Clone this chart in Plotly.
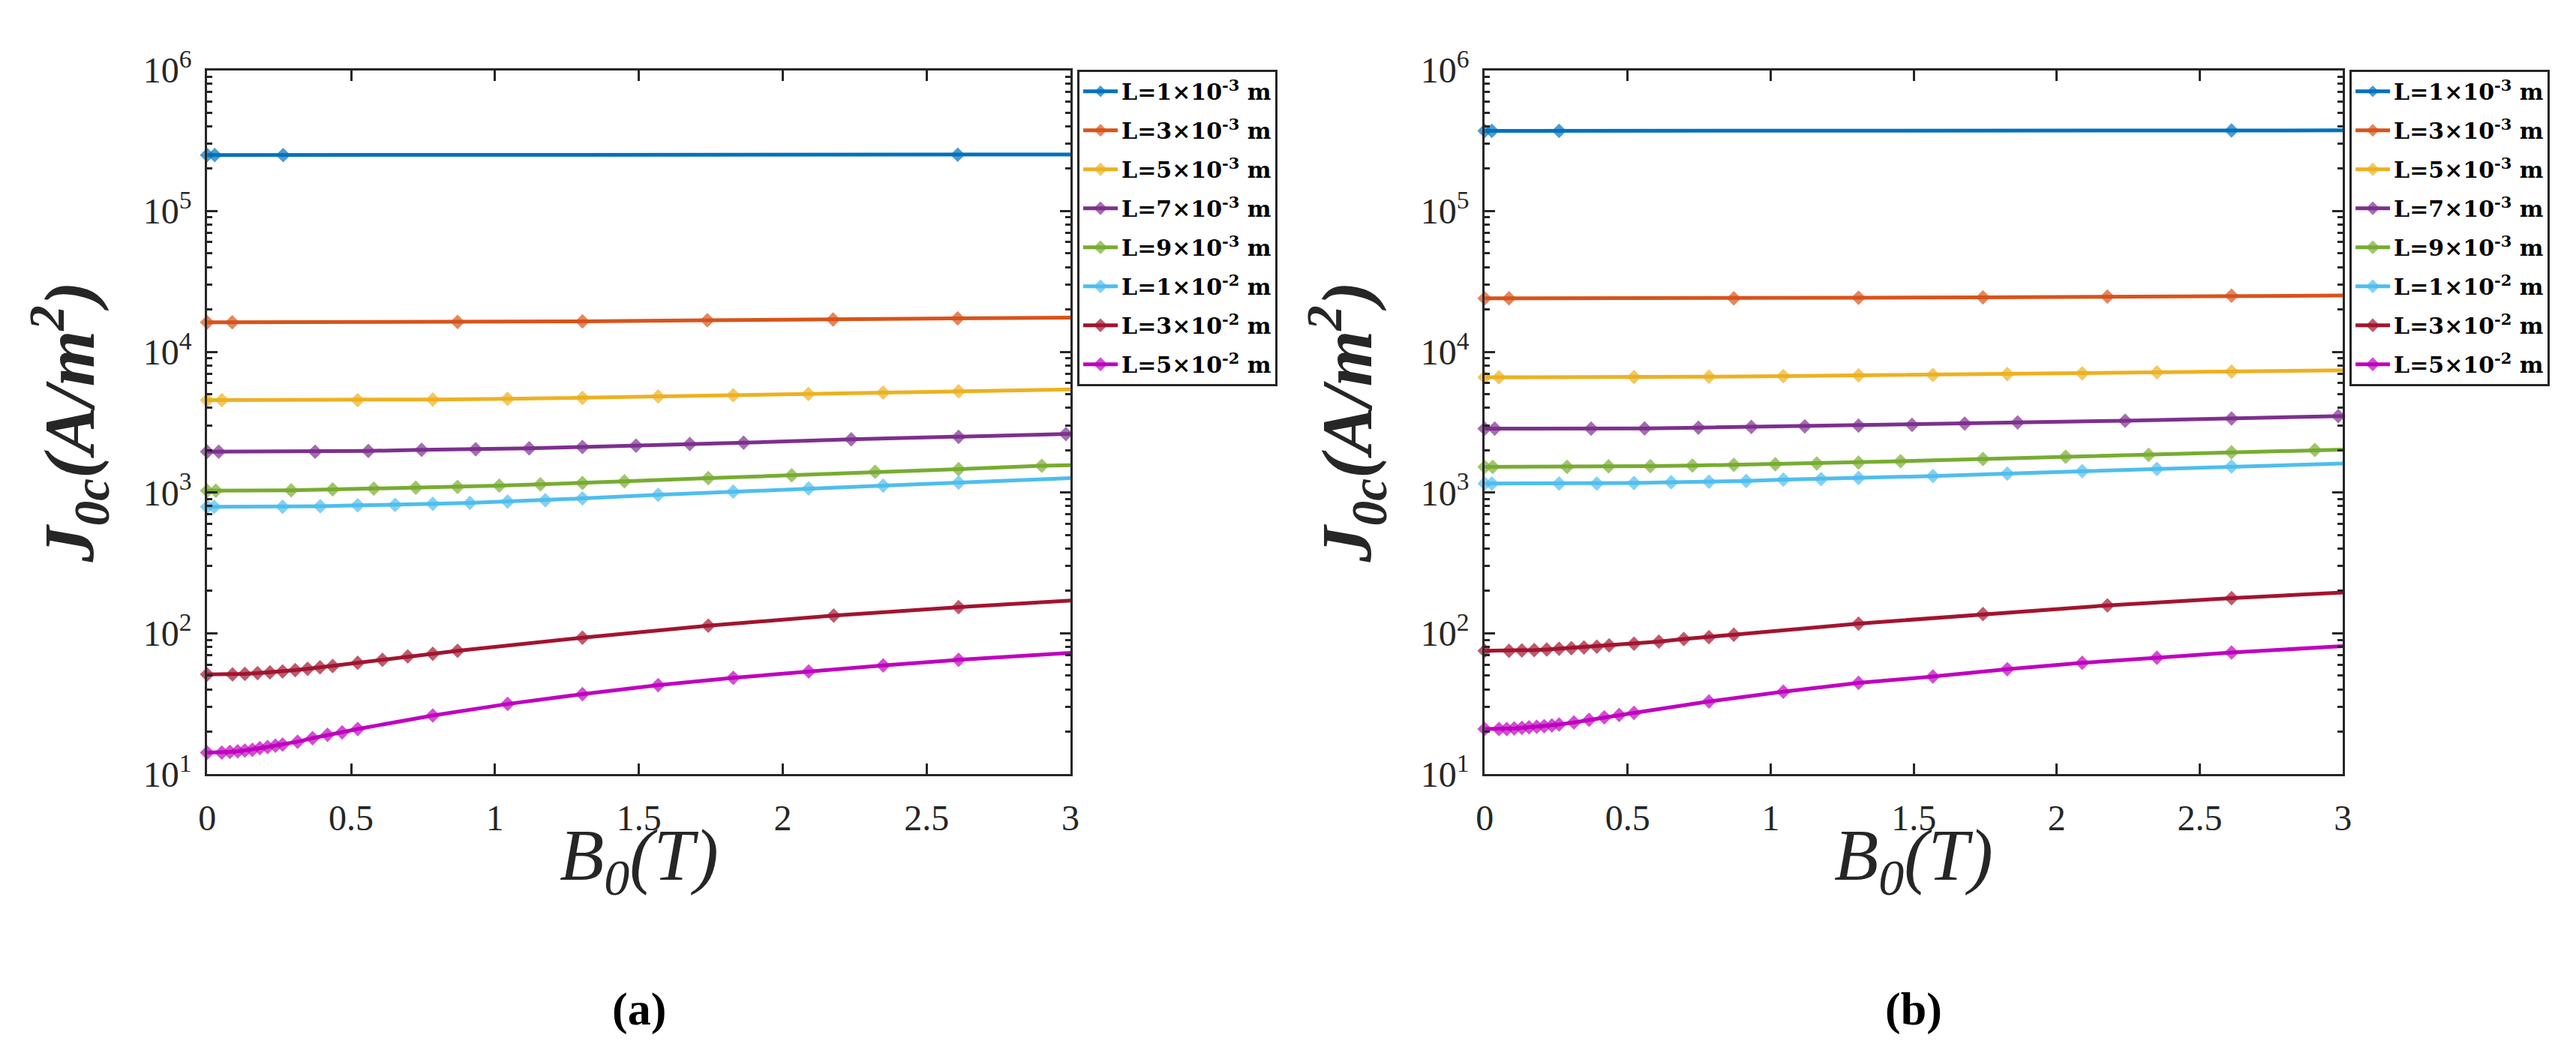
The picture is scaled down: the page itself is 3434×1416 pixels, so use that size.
import plotly.graph_objects as go

W, H = 3434, 1416

# ---------------- data: panel (a) ----------------
xa_blue = [0, 0.026, 0.264, 2.608, 3.0]
ya_blue = [250000, 250000, 250000, 251000, 252000]
xa_orange = [0, 0.087, 0.870, 1.304, 1.738, 2.175, 2.608, 3.0]
ya_orange = [16200, 16200, 16300, 16450, 16750, 16950, 17300, 17500]
xa_yellow = [0, 0.051, 0.523, 0.784, 1.044, 1.304, 1.567, 1.828, 2.089, 2.349, 2.611, 3.0]
ya_yellow = [4540, 4540, 4540, 4580, 4630, 4710, 4830, 4920, 5020, 5130, 5240, 5400]
xa_purple = [0, 0.040, 0.375, 0.560, 0.745, 0.933, 1.119, 1.304, 1.490, 1.677, 1.864, 2.238, 2.611, 2.984, 3.0]
ya_purple = [1950, 1950, 1950, 1975, 2015, 2030, 2060, 2110, 2150, 2210, 2260, 2390, 2490, 2600, 2610]
xa_green = [0, 0.030, 0.292, 0.436, 0.579, 0.725, 0.870, 1.015, 1.158, 1.304, 1.450, 1.741, 2.031, 2.321, 2.611, 2.900, 3.0]
ya_green = [1030, 1030, 1038, 1052, 1065, 1083, 1097, 1120, 1144, 1168, 1203, 1265, 1325, 1405, 1466, 1549, 1567]
xa_lblue = [0, 0.024, 0.262, 0.393, 0.523, 0.653, 0.784, 0.913, 1.044, 1.175, 1.304, 1.567, 1.828, 2.090, 2.349, 2.611, 3.0]
ya_lblue = [791, 791, 791, 800, 811, 817, 831, 845, 864, 882, 908, 963, 1017, 1070, 1120, 1178, 1265]
xa_dred = [0, 0.088, 0.131, 0.175, 0.218, 0.262, 0.306, 0.349, 0.392, 0.436, 0.523, 0.609, 0.697, 0.784, 0.870, 1.304, 1.741, 2.177, 2.611, 3.0]
ya_dred = [51.1, 51.1, 51.5, 52.1, 52.8, 53.7, 54.8, 56.0, 57.4, 58.7, 61.7, 64.9, 68.5, 71.5, 75.2, 93.1, 113.4, 133.6, 153.5, 170.7]
xa_mag = [0, 0.051, 0.079, 0.106, 0.131, 0.157, 0.183, 0.210, 0.237, 0.262, 0.314, 0.366, 0.418, 0.469, 0.523, 0.784, 1.044, 1.304, 1.567, 1.828, 2.090, 2.349, 2.611, 3.0]
ya_mag = [14.2, 14.2, 14.4, 14.5, 14.7, 14.9, 15.3, 15.6, 15.9, 16.2, 17.0, 18.0, 19.0, 19.8, 20.9, 26.1, 31.5, 37.0, 42.9, 48.3, 53.7, 59.1, 64.9, 72.6]

# ---------------- data: panel (b) ----------------
xb_blue = [0, 0.025, 0.260, 2.611, 3.0]
yb_blue = [371000, 371000, 371000, 373000, 374000]
xb_orange = [0, 0.085, 0.871, 1.307, 1.742, 2.177, 2.611, 3.0]
yb_orange = [23970, 23970, 23970, 24200, 24380, 24660, 25000, 25100]
xb_yellow = [0, 0.050, 0.522, 0.784, 1.044, 1.307, 1.567, 1.827, 2.089, 2.350, 2.611, 3.0]
yb_yellow = [6590, 6590, 6620, 6650, 6710, 6800, 6850, 6940, 7030, 7140, 7230, 7390]
xb_purple = [0, 0.035, 0.372, 0.559, 0.747, 0.932, 1.119, 1.307, 1.494, 1.678, 1.863, 2.239, 2.611, 2.984, 3.0]
yb_purple = [2845, 2845, 2845, 2857, 2893, 2930, 2953, 2991, 3030, 3090, 3150, 3240, 3360, 3490, 3500]
xb_green = [0, 0.028, 0.288, 0.433, 0.579, 0.726, 0.871, 1.016, 1.161, 1.307, 1.454, 1.742, 2.031, 2.321, 2.611, 2.902, 3.0]
yb_green = [1521, 1521, 1521, 1535, 1541, 1555, 1575, 1589, 1608, 1636, 1671, 1730, 1795, 1855, 1935, 2005, 2020]
xb_lblue = [0, 0.025, 0.260, 0.392, 0.522, 0.652, 0.784, 0.914, 1.044, 1.176, 1.307, 1.567, 1.827, 2.089, 2.350, 2.611, 3.0]
yb_lblue = [1158, 1158, 1158, 1158, 1169, 1183, 1193, 1208, 1234, 1249, 1271, 1310, 1365, 1420, 1470, 1530, 1610]
xb_dred = [0, 0.085, 0.130, 0.173, 0.217, 0.260, 0.303, 0.347, 0.392, 0.435, 0.522, 0.609, 0.696, 0.784, 0.871, 1.307, 1.742, 2.177, 2.611, 3.0]
yb_dred = [75.2, 75.2, 75.5, 76.1, 76.7, 77.8, 78.4, 79.4, 80.4, 82.1, 84.5, 87.4, 91.2, 93.9, 97.9, 117.3, 137.0, 158.0, 178.0, 195.0]
xb_mag = [0, 0.050, 0.077, 0.103, 0.130, 0.155, 0.182, 0.208, 0.235, 0.260, 0.312, 0.365, 0.418, 0.470, 0.522, 0.784, 1.044, 1.307, 1.567, 1.827, 2.089, 2.350, 2.611, 3.0]
yb_mag = [20.9, 20.9, 20.9, 21.1, 21.3, 21.5, 21.7, 21.9, 22.2, 22.5, 23.3, 24.3, 25.3, 26.3, 27.2, 32.8, 38.5, 44.5, 49.3, 55.6, 61.7, 67.1, 73.0, 81.1]

names = ["L=1×10<sup>-3</sup> m", "L=3×10<sup>-3</sup> m", "L=5×10<sup>-3</sup> m",
         "L=7×10<sup>-3</sup> m", "L=9×10<sup>-3</sup> m", "L=1×10<sup>-2</sup> m",
         "L=3×10<sup>-2</sup> m", "L=5×10<sup>-2</sup> m"]
colors = ["#0072BD", "#D95319", "#EDB120", "#7E2F8E", "#77AC30", "#4DBEEE", "#A2142F", "#C000C0"]

y_tickvals = [10, 100, 1000, 10000, 100000, 1000000]
y_ticktext = ["10<sup>1</sup>", "10<sup>2</sup>", "10<sup>3</sup>", "10<sup>4</sup>", "10<sup>5</sup>", "10<sup>6</sup>"]

panel_a = [(xa_blue, ya_blue), (xa_orange, ya_orange), (xa_yellow, ya_yellow), (xa_purple, ya_purple),
           (xa_green, ya_green), (xa_lblue, ya_lblue), (xa_dred, ya_dred), (xa_mag, ya_mag)]
panel_b = [(xb_blue, yb_blue), (xb_orange, yb_orange), (xb_yellow, yb_yellow), (xb_purple, yb_purple),
           (xb_green, yb_green), (xb_lblue, yb_lblue), (xb_dred, yb_dred), (xb_mag, yb_mag)]

AX = "#262626"
MS = 15

fig = go.Figure()

for panel, (xa, ya, lg) in zip([panel_a, panel_b], [("x", "y", "legend"), ("x2", "y2", "legend2")]):
    for i, ((xs, ys), nm, col) in enumerate(zip(panel, names, colors)):
        sizes = [0 if x >= 3.0 else MS for x in xs]
        fig.add_trace(go.Scatter(
            x=xs, y=ys, mode="lines+markers", name="<b>" + nm + "</b>",
            line=dict(color=col, width=5),
            marker=dict(symbol="diamond", size=sizes, color=col, line=dict(width=0)),
            xaxis=xa, yaxis=ya, legend=lg, legendgroup=lg + str(i),
            cliponaxis=False, showlegend=True))

# pixel geometry
ax_l, ax_r = 258, 1417
bx_l, bx_r = 1973, 3125
top, bot = 55, 1035


def px(x):
    return x / W


def py(y):
    return 1 - y / H


xaxis_common = dict(range=[0, 3], dtick=0.5, tick0=0, showline=True, linecolor=AX, linewidth=3,
                    mirror="allticks", ticks="inside", ticklen=14, tickwidth=3, tickcolor=AX,
                    showgrid=False, zeroline=False,
                    tickfont=dict(family="Liberation Serif", size=48, color=AX),
                    ticklabelstandoff=14)
yaxis_common = dict(type="log", range=[1, 6], tickmode="array", tickvals=y_tickvals, ticktext=y_ticktext,
                    showline=True, linecolor=AX, linewidth=3, mirror="allticks",
                    ticks="inside", ticklen=14, tickwidth=3, tickcolor=AX,
                    minor=dict(ticks="inside", ticklen=7, tickwidth=3, tickcolor=AX, dtick="D1", showgrid=False),
                    showgrid=False, zeroline=False,
                    tickfont=dict(family="Liberation Serif", size=48, color=AX),
                    ticklabelstandoff=8)

legend_common = dict(bgcolor="white", bordercolor=AX, borderwidth=3,
                     font=dict(family="DejaVu Serif", size=30, color="black"),
                     xanchor="left", yanchor="top", tracegroupgap=10, itemwidth=46)

fig.update_layout(
    width=W, height=H, margin=dict(l=0, r=0, t=0, b=0),
    paper_bgcolor="white", plot_bgcolor="white",
    xaxis=dict(domain=[px(ax_l), px(ax_r)], anchor="y", **xaxis_common),
    yaxis=dict(domain=[py(bot), py(top)], anchor="x", **yaxis_common),
    xaxis2=dict(domain=[px(bx_l), px(bx_r)], anchor="y2", **xaxis_common),
    yaxis2=dict(domain=[py(bot), py(top)], anchor="x2", **yaxis_common),
    legend=dict(x=px(1426), y=py(54), **legend_common),
    legend2=dict(x=px(3134), y=py(54), **legend_common),
)

ann = []
for (l, r, lab) in [(ax_l, ax_r, "(a)"), (bx_l, bx_r, "(b)")]:
    cx = (l + r) / 2
    ann.append(dict(x=px(l - 185), y=py((top + bot) / 2), xref="paper", yref="paper",
                    text="<b><i>J<sub>0c</sub>(A/m<sup>2</sup>)</i></b>", textangle=-90,
                    showarrow=False, xanchor="center", yanchor="middle",
                    font=dict(family="Liberation Serif", size=96, color=AX)))
    ann.append(dict(x=px(cx), y=py(1155), xref="paper", yref="paper",
                    text="<i>B<sub>0</sub>(T)</i>", showarrow=False,
                    xanchor="center", yanchor="middle",
                    font=dict(family="Liberation Serif", size=97, color=AX)))
    ann.append(dict(x=px(cx), y=py(1362), xref="paper", yref="paper",
                    text="<b>" + lab + "</b>", showarrow=False,
                    xanchor="center", yanchor="middle",
                    font=dict(family="Liberation Serif", size=62, color="black")))
fig.update_layout(annotations=ann)

fig.write_html("out.html")
